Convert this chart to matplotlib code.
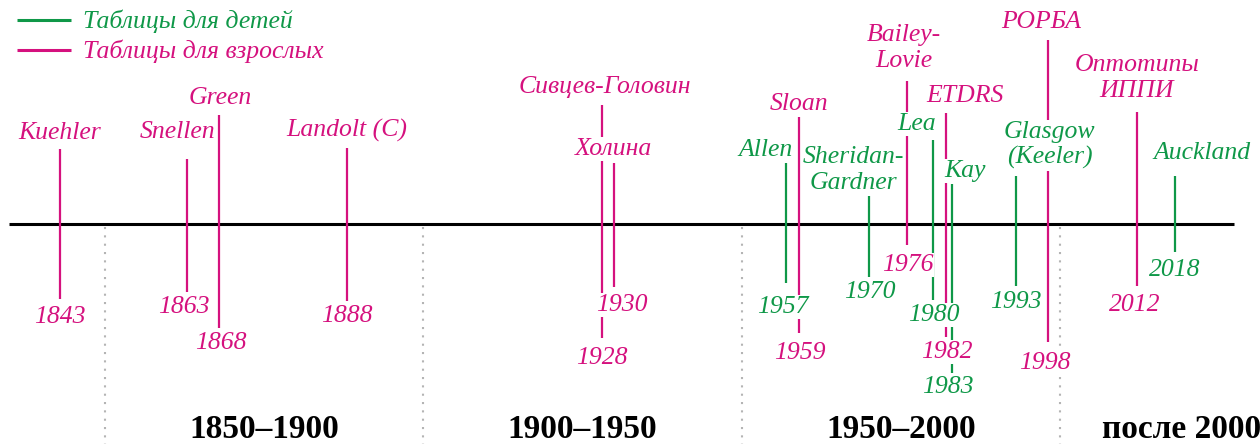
import matplotlib.pyplot as plt

# события шкалы: год, название, таблица для детей или для взрослых
years = [1843, 1863, 1868, 1888, 1928, 1930, 1957, 1959, 1970, 1976,
         1980, 1982, 1983, 1993, 1998, 2012, 2018]
names = ["Kuehler", "Snellen", "Green", "Landolt (C)", "Сивцев-Головин",
         "Холина", "Allen", "Sloan", "Sheridan-\nGardner", "Bailey-\nLovie",
         "Lea", "ETDRS", "Kay", "Glasgow\n(Keeler)", "РОРБА",
         "Оптотипы\nИППИ", "Auckland"]
for_kids = [False, False, False, False, False, False, True, False, True,
            False, True, False, True, True, False, False, True]

periods = ["1850–1900", "1900–1950", "1950–2000", "после 2000"]
period_bounds = [1850, 1900, 1950, 2000]
legend_labels = ["Таблицы для детей", "Таблицы для взрослых"]

# раскладка (в пикселях картинки): верх/низ штриха, сдвиги и высоты подписей
line_top = [149, 159, 115, 148, 105, 163, 163, 117, 196, 81,
            140, 113, 184, 176, 40, 112, 176]
line_bot = [299, 292, 328, 301, 338, 287, 283, 333, 277, 245,
            300, 337, 373, 286, 342, 286, 252]
name_dx = [0, -10, 1, 0, 3, -1, -21, 0, -16, -3, -16, 19, 13, 34, -6, 0, 27]
name_y = [133, 132, 98, 130, 87, 149, 150, 104, 170, 48, 124, 96, 171,
          145, 22, 78, 153]
year_dx = [0, -4, 2, 0, 0, 8, -3, 1, 1, 0, 1, 1, -4, 0, -3, -2, 0]
year_y = [317, 307, 343, 316, 358, 305, 307, 353, 292, 265, 315, 352, 387,
          302, 363, 305, 270]

GREEN = "#0f9848"
MAGENTA = "#d5117e"
PX_PER_YEAR = 6.371
X1850 = 104.6
W, H = 1260, 444


def to_year(px):
    return 1850 + (px - X1850) / PX_PER_YEAR


fig = plt.figure(figsize=(W / 100, H / 100), dpi=100)
ax = fig.add_axes([0, 0, 1, 1])
ax.set_xlim(to_year(0), to_year(W))
ax.set_ylim(H, 0)
ax.axis("off")

txt = dict(family="Liberation Serif", style="italic", fontsize=18.5)
box = dict(facecolor="white", edgecolor="none", pad=1)

# ось времени и разделители периодов
ax.plot([to_year(9), to_year(1234)], [224, 224], color="black", lw=2.2,
        zorder=2, solid_capstyle="butt")
for b in period_bounds:
    ax.plot([b, b], [227, H], color="#b4b4b4", lw=1.5,
            linestyle=(0, (1, 3)), zorder=1)

for i, yr in enumerate(years):
    c = GREEN if for_kids[i] else MAGENTA
    ax.plot([yr, yr], [line_top[i], line_bot[i]], color=c, lw=1.6,
            zorder=3, solid_capstyle="butt")
    ax.text(yr + name_dx[i] / PX_PER_YEAR, name_y[i], names[i], color=c,
            ha="center", va="center", linespacing=1.2, bbox=box, zorder=4,
            **txt)
    ax.text(yr + year_dx[i] / PX_PER_YEAR, year_y[i], str(yr), color=c,
            ha="center", va="center", bbox=box, zorder=4, **txt)

period_x = [1875, 1925, 1975, to_year(1182)]
for p, x in zip(periods, period_x):
    ax.text(x, 438, p, ha="center", va="baseline", family="Liberation Serif",
            fontweight="bold", fontsize=24)

# легенда
for lab, c, y in zip(legend_labels, [GREEN, MAGENTA], [20, 50]):
    ax.plot([to_year(17), to_year(71)], [y, y], color=c, lw=2.2,
            solid_capstyle="butt")
    ax.text(to_year(83), y + 1, lab, color=c, ha="left", va="center", **txt)

fig.savefig("out.png", dpi=100)
